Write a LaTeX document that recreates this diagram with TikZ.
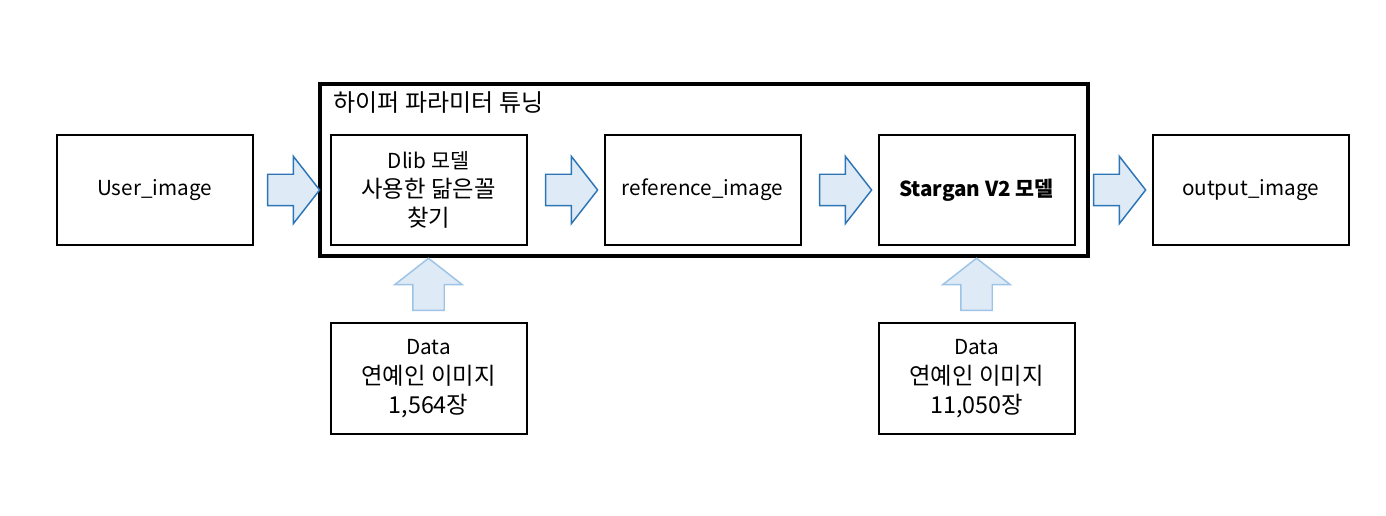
\documentclass[tikz,border=0pt]{standalone}
\usepackage{fontspec}
\setmainfont{Noto Sans CJK KR}
\usetikzlibrary{shapes.arrows, positioning, calc}
\definecolor{arrowfill}{HTML}{DEEBF7}
\definecolor{arrowline}{HTML}{2E75B6}
\definecolor{arrowpale}{HTML}{9DC3E6}
\newcommand{\sml}{\fontsize{15.5}{22}\selectfont}
\newcommand{\lrg}{\fontsize{17.5}{22}\selectfont}
\tikzset{
  stagebox/.style={draw=black, line width=1.5pt, minimum width=147pt, minimum height=83pt, align=center, font=\sml},
  flowarrow/.style={single arrow, draw=arrowline, fill=arrowfill, line width=1.1pt, minimum height=39pt, inner xsep=0pt, inner ysep=11.25pt, single arrow head extend=13.5pt, single arrow tip angle=104},
  feedarrow/.style={flowarrow, draw=arrowpale, rotate=90},
  tuningbox/.style={draw=black, line width=3pt},
  titletext/.style={inner sep=0pt, font=\fontsize{18}{22}\selectfont}
}

\begin{document}
\begin{tikzpicture}[x=0.75pt, y=0.75pt, node distance=57pt]
	\useasboundingbox (0,0) rectangle (1386,515);
	% main row
	\node[stagebox] (user) at (154.5,325) {User\_image};
	\node[stagebox, right=of user] (dlib) {Dlib 모델\\{\lrg 사용한 닮은꼴}\\{\lrg 찾기}};
	\node[stagebox, right=of dlib] (ref) {reference\_image};
	\node[stagebox, right=of ref] (star) {\textbf{Stargan V2 모델}};
	\node[stagebox, right=of star] (out) {output\_image};
	% data
	\node[stagebox, below=of dlib] (data1) {Data\\{\lrg 연예인 이미지}\\{\lrg 1,564장}};
	\node[stagebox, below=of star] (data2) {Data\\{\lrg 연예인 이미지}\\{\lrg 11,050장}};
	% tuning frame
	\coordinate (tunesw) at ($(dlib.south west)+(-10,-10)$);
	\coordinate (tunene) at ($(star.north east)+(12,50)$);
	\draw[tuningbox] (tunesw) rectangle (tunene);
	\node[titletext, anchor=west] (tunetitle) at ($(tunesw|-tunene)+(14,-19)$) {하이퍼 파라미터 튜닝};
	% arrows
	\node[flowarrow] (a1) at ($(user.east)!0.5!(dlib.west)+(-4,0)$) {};
	\node[flowarrow] (a2) at ($(dlib.east)!0.5!(ref.west)$) {};
	\node[flowarrow] (a3) at ($(ref.east)!0.5!(star.west)$) {};
	\node[flowarrow] (a4) at ($(star.east)!0.5!(out.west)$) {};
	\node[feedarrow] (f1) at ($(data1.north)!0.42!(dlib.south)$) {};
	\node[feedarrow] (f2) at ($(data2.north)!0.42!(star.south)$) {};
\end{tikzpicture}
\end{document}
